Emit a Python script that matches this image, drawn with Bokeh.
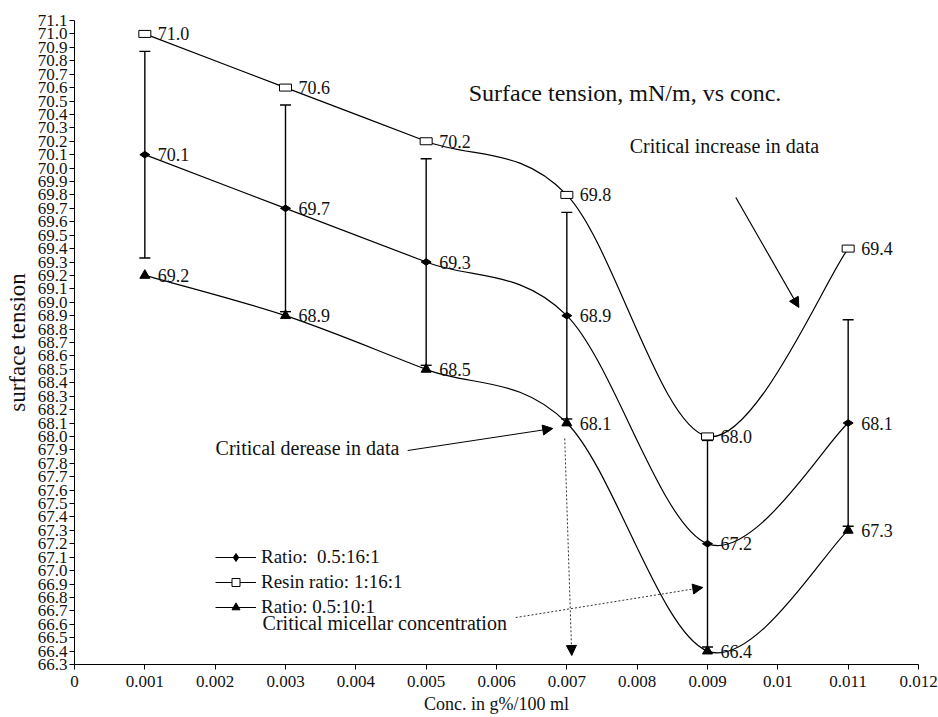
import numpy as np
from bokeh.plotting import figure
from bokeh.models import (FixedTicker, Whisker, TeeHead, ColumnDataSource, Label,
                          Arrow, NormalHead, Legend, LegendItem, PrintfTickFormatter, Range1d)
from bokeh.core.properties import value
from bokeh.embed import file_html
from bokeh.resources import INLINE

# ---------------- data ----------------
conc = [0.001, 0.003, 0.005, 0.007, 0.009, 0.011]
ratio_05_16_1 = [70.1, 69.7, 69.3, 68.9, 67.2, 68.1]
resin_1_16_1 = [71.0, 70.6, 70.2, 69.8, 68.0, 69.4]
ratio_05_10_1 = [69.2, 68.9, 68.5, 68.1, 66.4, 67.3]
error_05_16_1 = [0.77, 0.77, 0.77, 0.77, 0.77, 0.77]

series_names = ["Ratio:  0.5:16:1", "Resin ratio: 1:16:1", "Ratio: 0.5:10:1"]

x_ticks = [0, 0.001, 0.002, 0.003, 0.004, 0.005, 0.006, 0.007, 0.008, 0.009, 0.01, 0.011, 0.012]
x_tick_labels = ["0", "0.001", "0.002", "0.003", "0.004", "0.005", "0.006", "0.007",
                 "0.008", "0.009", "0.01", "0.011", "0.012"]
y_ticks = [round(66.3 + 0.1 * i, 1) for i in range(49)]

title_text = "Surface tension, mN/m, vs conc."
x_title = "Conc. in g%/100 ml"
y_title = "surface tension"

FONT = "Liberation Serif"
TXT = "#111111"

# ---------------- figure ----------------
p = figure(width=938, height=717, output_backend="svg", toolbar_location=None,
           x_range=Range1d(0, 0.012), y_range=Range1d(66.3, 71.1),
           min_border_left=74, min_border_right=20, min_border_top=20, min_border_bottom=53)
p.outline_line_color = None
p.xgrid.visible = False
p.ygrid.visible = False
p.background_fill_color = "white"
p.border_fill_color = "white"

# axes
p.xaxis.ticker = FixedTicker(ticks=x_ticks)
p.xaxis.major_label_overrides = {t: l for t, l in zip(x_ticks, x_tick_labels)}
p.yaxis.ticker = FixedTicker(ticks=y_ticks)
p.yaxis.formatter = PrintfTickFormatter(format="%.1f")
for ax in (p.xaxis, p.yaxis):
    ax.minor_tick_line_color = None
    ax.major_tick_in = 0
    ax.major_tick_out = 5
    ax.axis_line_color = "black"
    ax.major_tick_line_color = "black"
    ax.major_label_text_font = FONT
    ax.major_label_text_color = TXT
    ax.axis_label_text_font = FONT
    ax.axis_label_text_font_style = "normal"
    ax.axis_label_text_color = TXT
p.xaxis.major_label_text_font_size = "17px"
p.xaxis.major_label_standoff = 6
p.xaxis.axis_label = x_title
p.xaxis.axis_label_text_font_size = "18px"
p.xaxis.axis_label_standoff = 4
p.yaxis.major_label_text_font_size = "17px"
p.yaxis.major_label_standoff = 2
p.yaxis.axis_label = y_title
p.yaxis.axis_label_text_font_size = "23px"
p.yaxis.axis_label_standoff = 5


# smoothed curves (cubic bezier through the points)
def bezier_source(xs, ys):
    n = len(xs)
    pts = list(zip(xs, ys))
    d = dict(x0=[], y0=[], x1=[], y1=[], cx0=[], cy0=[], cx1=[], cy1=[])
    for i in range(n - 1):
        p0 = pts[i - 1] if i > 0 else pts[i]
        p1 = pts[i]
        p2 = pts[i + 1]
        p3 = pts[i + 2] if i + 2 < n else pts[i + 1]
        d["x0"].append(p1[0]); d["y0"].append(p1[1])
        d["x1"].append(p2[0]); d["y1"].append(p2[1])
        d["cx0"].append(p1[0] + (p2[0] - p0[0]) / 6); d["cy0"].append(p1[1] + (p2[1] - p0[1]) / 6)
        d["cx1"].append(p2[0] - (p3[0] - p1[0]) / 6); d["cy1"].append(p2[1] - (p3[1] - p1[1]) / 6)
    return ColumnDataSource(d)


for ys in (ratio_05_16_1, resin_1_16_1, ratio_05_10_1):
    p.bezier(x0="x0", y0="y0", x1="x1", y1="y1", cx0="cx0", cy0="cy0", cx1="cx1", cy1="cy1",
             source=bezier_source(conc, ys), line_color="black", line_width=1.2)

# error bars on ratio 0.5:16:1
err_src = ColumnDataSource(dict(
    x=conc,
    upper=[v + e for v, e in zip(ratio_05_16_1, error_05_16_1)],
    lower=[v - e for v, e in zip(ratio_05_16_1, error_05_16_1)],
))
p.add_layout(Whisker(base="x", upper="upper", lower="lower", source=err_src,
                     line_width=1.4, line_color="black",
                     upper_head=TeeHead(size=11, line_width=1.4, line_color="black"),
                     lower_head=TeeHead(size=11, line_width=1.4, line_color="black")))

# markers
p.scatter(conc, ratio_05_16_1, marker="diamond", size=10, angle=np.pi / 2,
          fill_color="black", line_color="black")
p.rect(conc, resin_1_16_1, width=12, height=7, width_units="screen", height_units="screen",
       fill_color="white", line_color="black", line_width=1)
p.scatter(conc, ratio_05_10_1, marker="triangle", size=10,
          fill_color="black", line_color="black")

# value labels
for ys in (ratio_05_16_1, resin_1_16_1, ratio_05_10_1):
    p.text(x=conc, y=ys, text=["%.1f" % v for v in ys], x_offset=13,
           text_font=value(FONT), text_font_size="18px", text_baseline="middle",
           text_color=TXT)

# legend (style-only renderers, their points lie outside the visible range)
off_x, off_y = [-1.0, -0.9], [0.0, 0.0]
l1 = p.line(x=off_x, y=off_y, line_color="black", line_width=1)
m1 = p.scatter(x=off_x, y=off_y, marker="diamond", size=9, angle=np.pi / 2, fill_color="black", line_color="black")
l2 = p.line(x=off_x, y=off_y, line_color="black", line_width=1)
m2 = p.scatter(x=off_x, y=off_y, marker="square", size=7, fill_color="white", line_color="black")
l3 = p.line(x=off_x, y=off_y, line_color="black", line_width=1)
m3 = p.scatter(x=off_x, y=off_y, marker="triangle", size=9, fill_color="black", line_color="black")
legend = Legend(items=[LegendItem(label=series_names[0], renderers=[l1, m1]),
                       LegendItem(label=series_names[1], renderers=[l2, m2]),
                       LegendItem(label=series_names[2], renderers=[l3, m3])],
                location=(141, 46), padding=0, margin=0, border_line_color=None,
                background_fill_alpha=0, glyph_width=41, glyph_height=20, label_height=20,
                spacing=3, label_standoff=5, label_text_font=FONT,
                label_text_font_size="19px", label_text_color=TXT)
p.add_layout(legend, "center")

# annotations
p.add_layout(Label(x=0.005605, y=70.563, text=title_text, text_font=FONT,
                   text_font_size="24px", text_baseline="middle", text_color=TXT))
p.add_layout(Label(x=0.007895, y=70.168, text="Critical increase in data", text_font=FONT,
                   text_font_size="20px", text_baseline="middle", text_color=TXT))
p.add_layout(Label(x=0.002006, y=67.917, text="Critical derease in data", text_font=FONT,
                   text_font_size="20px", text_baseline="middle", text_color=TXT))
p.add_layout(Label(x=0.002674, y=66.606, text="Critical micellar concentration", text_font=FONT,
                   text_font_size="20px", text_baseline="middle", text_color=TXT))


def head():
    return NormalHead(size=10, fill_color="black", line_color="black", line_width=1)


p.add_layout(Arrow(end=head(), x_start=0.009403, y_start=69.781, x_end=0.010299, y_end=68.961,
                   line_color="black", line_width=1.2))
p.add_layout(Arrow(end=head(), x_start=0.004737, y_start=67.895, x_end=0.0068, y_end=68.059,
                   line_color="black", line_width=1))
p.add_layout(Arrow(end=head(), x_start=0.00697, y_start=67.985, x_end=0.00707, y_end=66.367,
                   line_color="#333333", line_width=1, line_dash="2 2"))
p.add_layout(Arrow(end=head(), x_start=0.006273, y_start=66.650, x_end=0.008933, y_end=66.874,
                   line_color="#333333", line_width=1, line_dash="2 2"))

open("out.html", "w").write(file_html(p, INLINE))
